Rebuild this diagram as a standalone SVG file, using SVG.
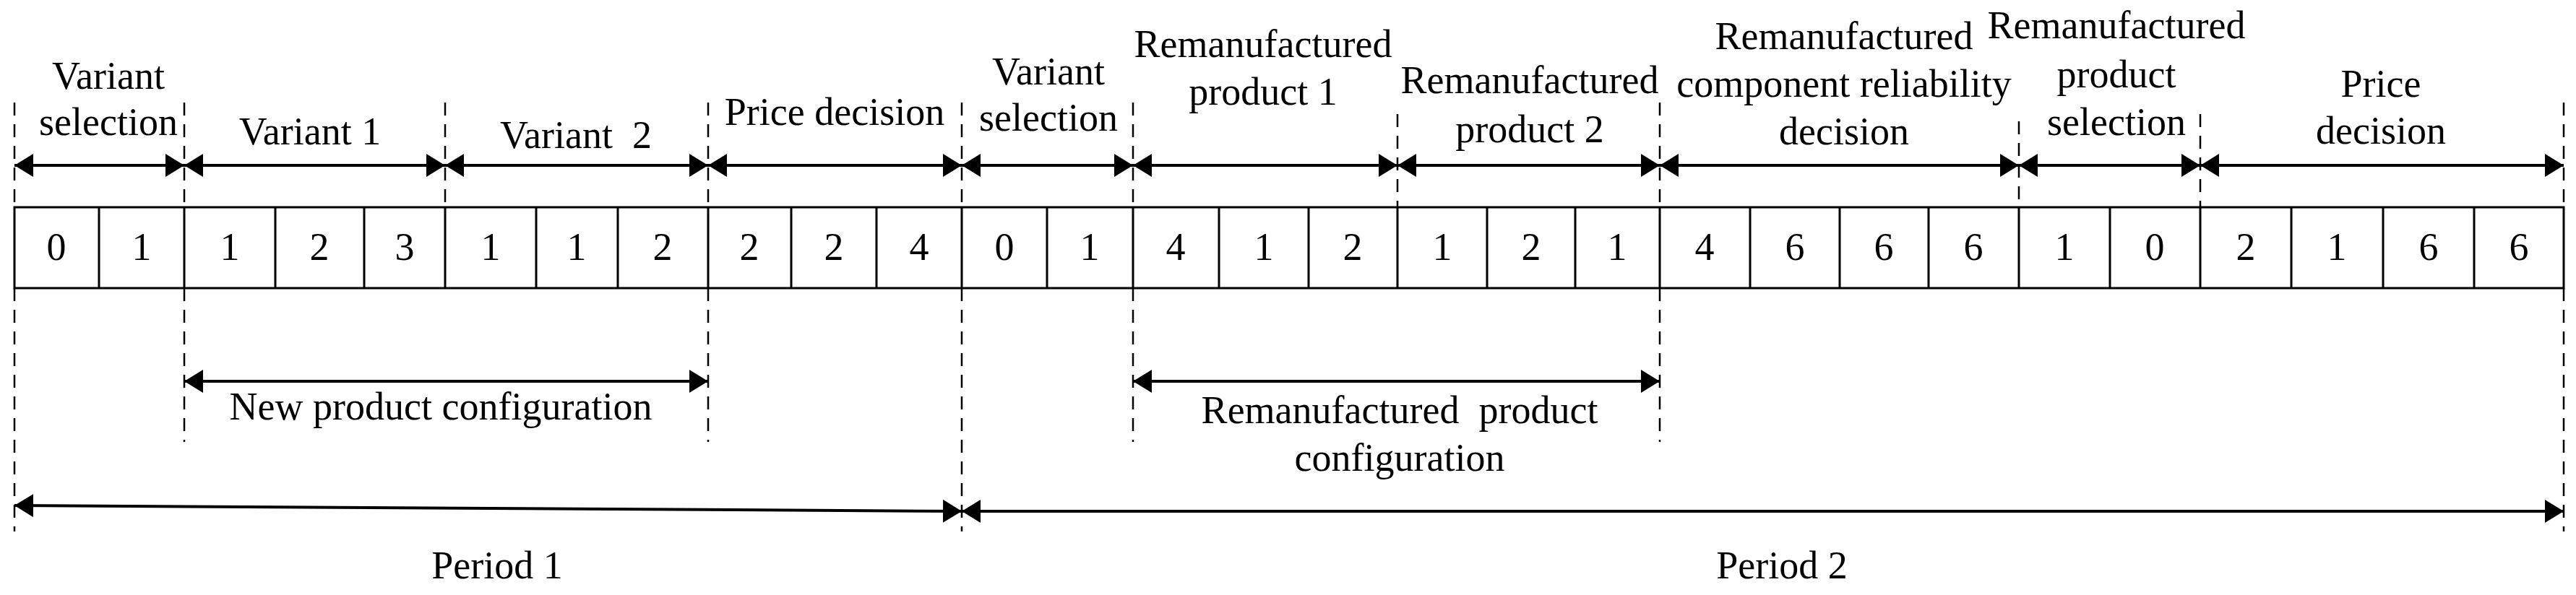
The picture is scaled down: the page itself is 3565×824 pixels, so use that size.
<svg xmlns="http://www.w3.org/2000/svg" width="3565" height="824" viewBox="0 0 3565 824">
<style>
text{font-family:"Liberation Serif","Times New Roman",serif;font-size:54px;fill:#000;text-anchor:middle}
.c{stroke:#000;stroke-width:3;fill:none}
.d{stroke:#000;stroke-width:2.5;stroke-dasharray:18,12;fill:none}
.a{stroke:#000;stroke-width:4;fill:none;marker-start:url(#h);marker-end:url(#h)}
</style>
<defs>
<marker id="h" viewBox="0 0 26 32" refX="26" refY="16" markerWidth="26" markerHeight="32" markerUnits="userSpaceOnUse" orient="auto-start-reverse">
<path d="M0,0 L26,16 L0,32 Z" fill="#000"/>
</marker>
</defs>
<rect width="3565" height="824" fill="#fff"/>
<g id="table">
<rect class="c" x="20" y="287" width="3528" height="112"/>
<path class="c" d="M137,287V399M255,287V399M381,287V399M504,287V399M616,287V399M742,287V399M855,287V399M980,287V399M1095,287V399M1213,287V399M1331,287V399M1449,287V399M1568,287V399M1687,287V399M1811,287V399M1934,287V399M2058,287V399M2180,287V399M2297,287V399M2422,287V399M2546,287V399M2669,287V399M2794,287V399M2920,287V399M3045,287V399M3171,287V399M3298,287V399M3424,287V399"/>
<g>
<text x="78" y="360">0</text><text x="196" y="360">1</text><text x="318" y="360">1</text><text x="442" y="360">2</text><text x="560" y="360">3</text><text x="679" y="360">1</text><text x="798" y="360">1</text><text x="917" y="360">2</text><text x="1037" y="360">2</text><text x="1154" y="360">2</text><text x="1272" y="360">4</text><text x="1390" y="360">0</text><text x="1508" y="360">1</text><text x="1627" y="360">4</text><text x="1749" y="360">1</text><text x="1872" y="360">2</text><text x="1996" y="360">1</text><text x="2119" y="360">2</text><text x="2238" y="360">1</text><text x="2359" y="360">4</text><text x="2484" y="360">6</text><text x="2607" y="360">6</text><text x="2731" y="360">6</text><text x="2857" y="360">1</text><text x="2982" y="360">0</text><text x="3108" y="360">2</text><text x="3234" y="360">1</text><text x="3361" y="360">6</text><text x="3486" y="360">6</text>
</g>
</g>
<g id="guides">
<path class="d" d="M20,142V287M20,399V736M255,142V287M255,399V612M616,142V287M980,142V287M980,399V612M1331,142V287M1331,399V736M1568,142V287M1568,399V612M1934,158V287M2297,142V287M2297,399V612M2794,168V287M3045,158V287M3548,142V287M3548,399V736"/>
</g>
<g id="connectors">
<line class="a" x1="20" y1="229" x2="255" y2="229"/>
<line class="a" x1="255" y1="229" x2="616" y2="229"/>
<line class="a" x1="616" y1="229" x2="980" y2="229"/>
<line class="a" x1="980" y1="229" x2="1331" y2="229"/>
<line class="a" x1="1331" y1="229" x2="1568" y2="229"/>
<line class="a" x1="1568" y1="229" x2="1934" y2="229"/>
<line class="a" x1="1934" y1="229" x2="2297" y2="229"/>
<line class="a" x1="2297" y1="229" x2="2794" y2="229"/>
<line class="a" x1="2794" y1="229" x2="3045" y2="229"/>
<line class="a" x1="3045" y1="229" x2="3548" y2="229"/>
<line class="a" x1="255" y1="528" x2="980" y2="528"/>
<line class="a" x1="1568" y1="528" x2="2297" y2="528"/>
<line class="a" x1="20" y1="700" x2="1331" y2="708"/>
<line class="a" x1="1331" y1="708" x2="3548" y2="708"/>
</g>
<g id="labels">
<text x="150" y="123">Variant</text><text x="150" y="187">selection</text>
<text x="429" y="200">Variant 1</text>
<text x="797" y="205" xml:space="preserve">Variant  2</text>
<text x="1155" y="173">Price decision</text>
<text x="1451" y="117">Variant</text><text x="1451" y="181">selection</text>
<text x="1748" y="79">Remanufactured</text><text x="1748" y="145">product 1</text>
<text x="2117" y="129">Remanufactured</text><text x="2117" y="197">product 2</text>
<text x="2552" y="68">Remanufactured</text><text x="2552" y="134">component reliability</text><text x="2552" y="200">decision</text>
<text x="2929" y="53">Remanufactured</text><text x="2929" y="121">product</text><text x="2929" y="187">selection</text>
<text x="3295" y="134">Price</text><text x="3295" y="199">decision</text>
<text x="610" y="581">New product configuration</text>
<text x="1937" y="586" xml:space="preserve">Remanufactured  product</text><text x="1937" y="652">configuration</text>
<text x="688" y="801">Period 1</text>
<text x="2466" y="801">Period 2</text>
</g>
</svg>
